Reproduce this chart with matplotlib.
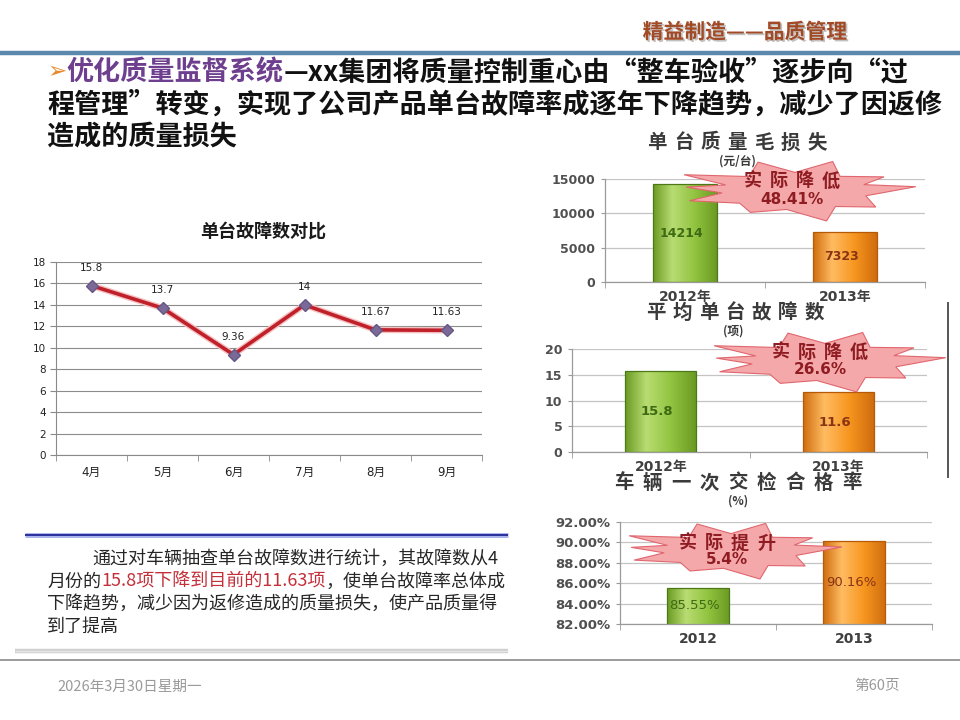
import numpy as np
import matplotlib
matplotlib.use('Agg')
import matplotlib.pyplot as plt
from matplotlib.patches import Polygon
from matplotlib.ticker import FuncFormatter, FixedLocator
from matplotlib.colors import LinearSegmentedColormap
import matplotlib.patheffects as pe

CJK = ['Noto Sans CJK SC', 'DejaVu Sans']
LAT = ['DejaVu Sans', 'Noto Sans CJK SC']
plt.rcParams['font.family'] = CJK

# ---------------- data ----------------
header_text = '精益制造——品质管理'
title_lines = [
    [('➢', 'arrow'), ('优化质量监督系统', 'purple'), ('—xx集团将质量控制重心由“整车验收”逐步向“过', 'black')],
    [('程管理”转变，实现了公司产品单台故障率成逐年下降趋势，减少了因返修', 'black')],
    [('造成的质量损失', 'black')],
]
months = ['4月', '5月', '6月', '7月', '8月', '9月']
faults = [15.8, 13.7, 9.36, 14, 11.67, 11.63]
line_title = '单台故障数对比'

years_a = ['2012年', '2013年']
loss_per_unit = [14214, 7323]
avg_faults = [15.8, 11.6]
years_b = ['2012', '2013']
pass_rate = [0.8555, 0.9016]
bar_titles = ['单台质量毛损失', '平均单台故障数', '车辆一次交检合格率']
bar_units = ['(元/台)', '(项)', '(%)']
burst_texts = [('实际降低', '48.41%'), ('实际降低', '26.6%'), ('实际提升', '5.4%')]

para_lines = [
    [('通过对车辆抽查单台故障数进行统计，其故障数从4', 'dark')],
    [('月份的', 'dark'), ('15.8项下降到目前的11.63项', 'red'), ('，使单台故障率总体成', 'dark')],
    [('下降趋势，减少因为返修造成的质量损失，使产品质量得', 'dark')],
    [('到了提高', 'dark')],
]
footer_date = '2026年3月30日星期一'
footer_page = '第60页'

# ---------------- figure ----------------
W, H = 960, 720
fig = plt.figure(figsize=(9.6, 7.2), dpi=100)
fig.patch.set_facecolor('white')
renderer = fig.canvas.get_renderer()


def rect(x0, y0, x1, y1):
    return [x0 / W, 1 - y1 / H, (x1 - x0) / W, (y1 - y0) / H]


# ---------------- line chart ----------------
ax1 = fig.add_axes(rect(56, 262, 482, 455))
xi = np.arange(len(months))
ax1.plot(xi, faults, color='#c0202a', lw=2.6, zorder=3,
         path_effects=[pe.Stroke(linewidth=4.6, foreground='#f4c0c0'), pe.Normal()])
ax1.plot(xi, faults, ls='none', marker='D', ms=6, mfc='#7b6a98', mec='#665685', zorder=4)
for x, v in zip(xi, faults):
    ax1.annotate(f'{v:g}', (x, v), xytext=(0, 13), textcoords='offset points',
                 ha='center', va='center', fontsize=7.5, family=LAT, color='#222222')
ax1.set_xlim(-0.5, len(months) - 0.5)
ax1.set_ylim(0, 18)
ax1.set_yticks(range(0, 19, 2))
ax1.set_xticks(xi)
ax1.set_xticklabels(months, family=LAT, fontsize=8.5, color='#222222')
ax1.xaxis.set_minor_locator(FixedLocator(np.arange(-0.5, len(months), 1.0)))
ax1.tick_params(axis='x', which='major', length=0, pad=8)
ax1.tick_params(axis='x', which='minor', length=4, color='#8a8a8a', direction='out')
ax1.tick_params(axis='y', length=4, color='#8a8a8a', labelsize=7.5, labelcolor='#222222', pad=3)
for lab in ax1.get_yticklabels():
    lab.set_family(LAT)
ax1.yaxis.grid(True, color='#8c8c8c', lw=0.8)
ax1.set_axisbelow(True)
for s in ['top', 'right']:
    ax1.spines[s].set_visible(False)
for s in ['left', 'bottom']:
    ax1.spines[s].set_color('#8a8a8a')
    ax1.spines[s].set_linewidth(0.8)
ax1.patch.set_alpha(0)

# ---------------- bar charts ----------------
green = ('#6a9a22', '#b8dc72', '#92c440', '#4d7818')
orange = ('#cf6c0e', '#ffbc62', '#f7961f', '#b55a08')
bar_styles = [green, orange]


def bar_chart(rpx, cats, vals, ylim, yticks, yfmt, lfmt, lcolors, lsize, lweight, tsize):
    ax = fig.add_axes(rect(*rpx))
    xs = np.arange(len(cats))
    bars = ax.bar(xs, vals, width=0.4, color='none', zorder=3, lw=0.9)
    for b, st in zip(bars, bar_styles):
        b.set_edgecolor(st[3])
        cmap = LinearSegmentedColormap.from_list('g', [(0, st[0]), (0.3, st[1]), (0.65, st[2]), (1, st[0])])
        x0, w, h = b.get_x(), b.get_width(), b.get_height()
        im = ax.imshow(np.linspace(0, 1, 256)[None, :], cmap=cmap, aspect='auto',
                       extent=(x0, x0 + w, ylim[0], h), origin='lower', zorder=2,
                       interpolation='bicubic')
        im.set_clip_path(b)
    for x, v, c in zip(xs, vals, lcolors):
        ax.text(x - 0.02, (ylim[0] + v) / 2, lfmt(v), ha='center', va='center',
                fontsize=lsize, fontweight=lweight, family=LAT, color=c, zorder=5)
    ax.set_xlim(-0.5, len(cats) - 0.5)
    ax.set_ylim(*ylim)
    ax.set_yticks(yticks)
    ax.yaxis.set_major_formatter(FuncFormatter(yfmt))
    ax.set_xticks(xs)
    ax.set_xticklabels(cats, family=LAT, fontsize=10, fontweight='bold', color='#404040')
    ax.xaxis.set_minor_locator(FixedLocator(np.arange(-0.5, len(cats), 1.0)))
    ax.tick_params(axis='x', which='major', length=0, pad=6)
    ax.tick_params(axis='x', which='minor', length=4, color='#9a9a9a')
    ax.tick_params(axis='y', length=3, color='#9a9a9a', labelsize=tsize, labelcolor='#505050', pad=4)
    for lab in ax.get_yticklabels():
        lab.set_family(LAT)
        lab.set_fontweight('bold')
    ax.yaxis.grid(True, color='#c4c4c4', lw=0.9)
    ax.set_axisbelow(True)
    for s in ['top', 'right']:
        ax.spines[s].set_visible(False)
    for s in ['left', 'bottom']:
        ax.spines[s].set_color('#9a9a9a')
        ax.spines[s].set_linewidth(0.9)
    ax.patch.set_alpha(0)
    return ax


bar_chart((605, 179, 925, 282), years_a, loss_per_unit, (0, 15000), [0, 5000, 10000, 15000],
          lambda v, p: f'{v:.0f}', lambda v: f'{v:d}', ['#3d6a12', '#8a3414'], 9, 'bold', 9)
bar_chart((572, 349, 927, 452), years_a, avg_faults, (0, 20), [0, 5, 10, 15, 20],
          lambda v, p: f'{v:.0f}', lambda v: f'{v:g}', ['#3d6a12', '#8a3414'], 9.5, 'bold', 9)
bar_chart((620, 522, 932, 624), years_b, pass_rate, (0.82, 0.92), [0.82, 0.84, 0.86, 0.88, 0.90, 0.92],
          lambda v, p: f'{v * 100:.2f}%', lambda v: f'{v * 100:.2f}%', ['#3d6a12', '#8a3414'], 9.5, 'normal', 9.5)

# ---------------- overlay (decorations & text) ----------------
ov = fig.add_axes([0, 0, 1, 1], zorder=10)
ov.set_xlim(0, W)
ov.set_ylim(H, 0)
ov.axis('off')
ov.patch.set_alpha(0)

# header
ov.text(745, 32, header_text, ha='center', va='center', fontsize=15, fontweight='bold',
        color='#a24a26', path_effects=[pe.SimplePatchShadow(offset=(1.2, -1.2), shadow_rgbFace='#999999', alpha=0.6), pe.Normal()])
ov.plot([0, W], [53, 53], color='#5d88ae', lw=3.2, solid_capstyle='butt')

seg_colors = {'arrow': '#e88a2a', 'purple': '#6e3f8e', 'black': '#111111',
              'dark': '#262626', 'red': '#c3303a'}


def seg_text(x, y, segs, size, weight):
    for s, key in segs:
        kw = dict(fontsize=size, fontweight=weight, color=seg_colors[key])
        if key == 'arrow':
            kw.update(family=LAT, fontsize=size * 0.85)
        t = ov.text(x, y, s, ha='left', va='center', **kw)
        x += t.get_window_extent(renderer).width


title_y = [72, 105, 137]
for ln, y in zip(title_lines, title_y):
    seg_text(47, y, ln, 19.5, 'bold')

# chart title (line chart)
ov.text(263, 232, line_title, ha='center', va='center', fontsize=13, color='#1a1a1a', fontweight='bold')


def spaced(cx, y, s, adv, **kw):
    n = len(s)
    for i, ch in enumerate(s):
        ov.text(cx + (i - (n - 1) / 2) * adv, y, ch, ha='center', va='center', **kw)


title_pos = [(737, 143, 26.7), (735, 313, 26.5), (738, 483, 28.5)]
unit_pos = [(737, 161), (733, 331), (738, 501)]
for t, (cx, cy, adv), u, (ux, uy) in zip(bar_titles, title_pos, bar_units, unit_pos):
    spaced(cx, cy, t, adv, fontsize=14, fontweight='bold', color='#3a3a3a')
    ov.text(ux, uy, u, ha='center', va='center', fontsize=8.5, fontweight='bold', color='#3a3a3a')

# starbursts (shape only – decoration)
spike_ang = [8, 32, 72, 108, 150, 172, 200, 242, 285, 322]
spike_r = [1.0, 0.86, 1.0, 0.98, 1.05, 0.9, 0.92, 0.78, 1.0, 0.84]


def starburst(cx, cy, hw, hh, inner=0.6):
    pts = []
    n = len(spike_ang)
    for i in range(n):
        a = np.deg2rad(spike_ang[i])
        pts.append((cx + hw * spike_r[i] * np.cos(a), cy - hh * spike_r[i] * np.sin(a)))
        nxt = spike_ang[(i + 1) % n] + (360 if i == n - 1 else 0)
        a2 = np.deg2rad((spike_ang[i] + nxt) / 2)
        pts.append((cx + hw * inner * np.cos(a2), cy - hh * inner * np.sin(a2)))
    ov.add_patch(Polygon(pts, closed=True, fc='#f5a8aa', ec='#e0666e', lw=0.8, zorder=2))


burst_geo = [(795, 191, 122, 31), (825, 362, 122, 31), (731, 551, 112, 29)]
burst_txt_pos = [(792, 181, 199), (820, 352, 369), (727, 543, 559)]
for (cx, cy, hw, hh), (tx, y1, y2), (t1, t2) in zip(burst_geo, burst_txt_pos, burst_texts):
    starburst(cx, cy, hw, hh)
    spaced(tx, y1, t1, 26, fontsize=13, fontweight='bold', color='#8e1c22', zorder=3)
    ov.text(tx, y2, t2, ha='center', va='center', fontsize=11, fontweight='bold',
            family=LAT, color='#8e1c22', zorder=3)

# right vertical divider
ov.plot([948, 948], [303, 477], color='#555555', lw=1.4)

# text box
ov.plot([25, 508], [535, 535], color='#aab4ea', lw=3.6, solid_capstyle='butt')
ov.plot([25, 508], [535, 535], color='#2a2f9c', lw=1.4, solid_capstyle='butt')
para_x = [92, 47, 47, 47]
para_y = [559, 582, 604, 627]
for ln, x, y in zip(para_lines, para_x, para_y):
    seg_text(x, y, ln, 13, 'normal')
ov.plot([15, 508], [651, 651], color='#cfcfcf', lw=3.2, solid_capstyle='butt')
ov.plot([15, 508], [651, 651], color='#e6e6e6', lw=1.0, solid_capstyle='butt')

# footer
ov.plot([0, W], [660, 660], color='#808080', lw=1.1)
ov.text(57, 687, footer_date, ha='left', va='center', fontsize=10.5, color='#9a9a9a')
ov.text(900, 686, footer_page, ha='right', va='center', fontsize=10.5, color='#9a9a9a')

fig.savefig('out.png', dpi=100, facecolor='white')
